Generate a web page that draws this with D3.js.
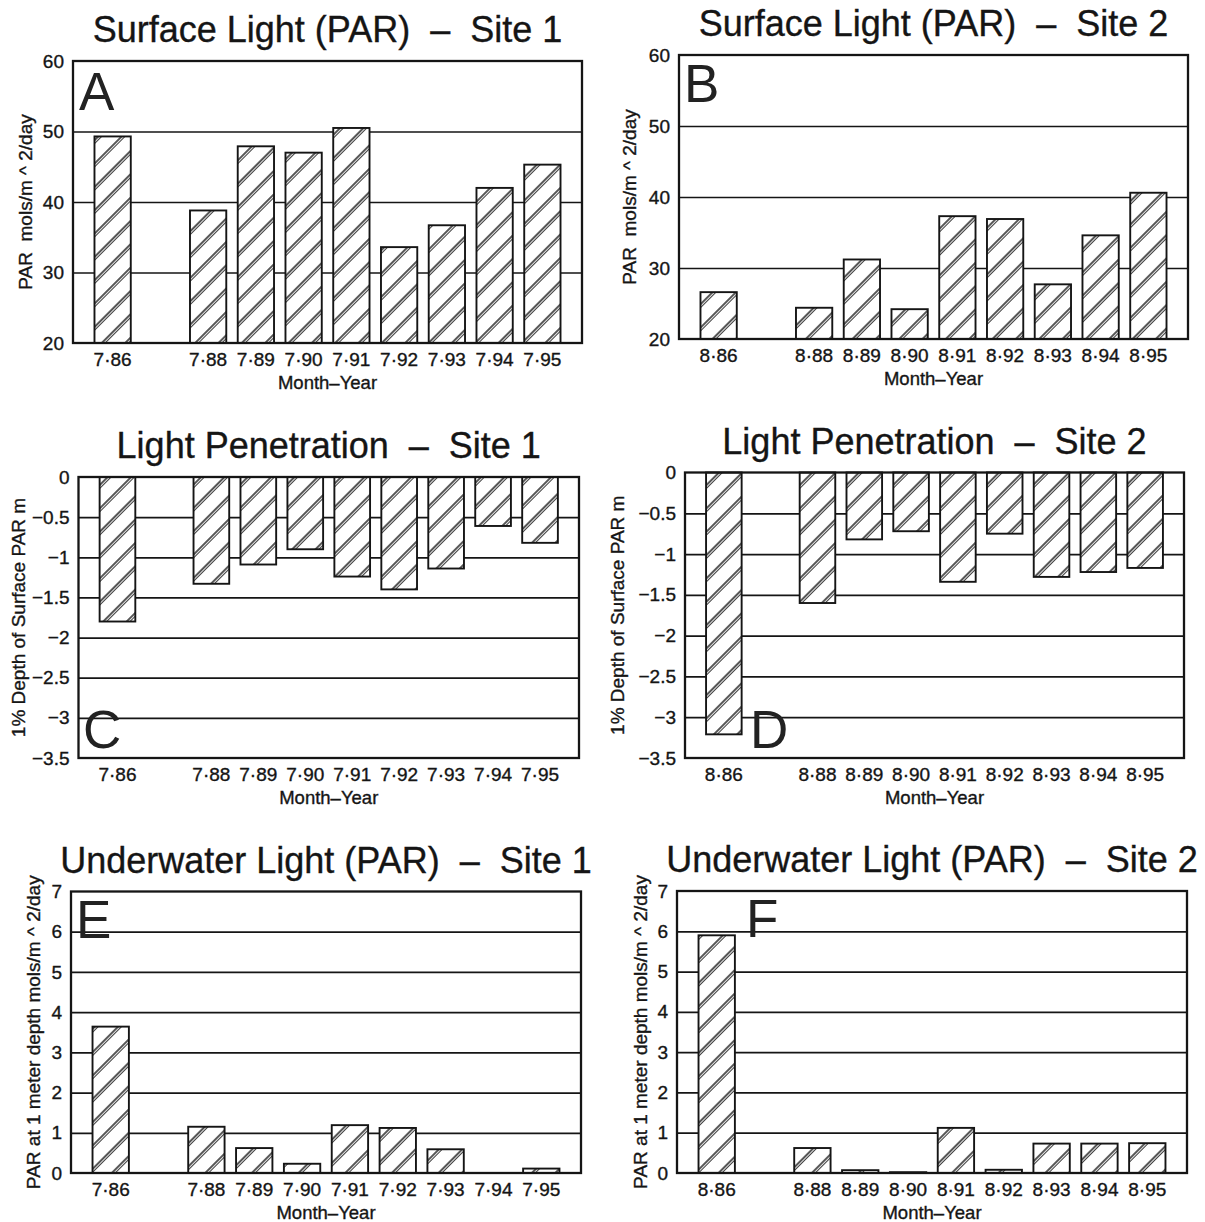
<!DOCTYPE html>
<html>
<head>
<meta charset="utf-8">
<script src="https://cdn.jsdelivr.net/npm/d3@7"></script>
<style>
  html, body { margin: 0; padding: 0; background: #fff; }
  svg { display: block; font-family: "Liberation Sans", Arial, Helvetica, sans-serif; }
</style>
</head>
<body>
<svg id="chart" width="1205" height="1222"></svg>
<script>
// Month-year sampling points (the x.87 slot was not sampled)
const site1Labels = ["7·86", "", "7·88", "7·89", "7·90", "7·91", "7·92", "7·93", "7·94", "7·95"];
const site2Labels = ["8·86", "", "8·88", "8·89", "8·90", "8·91", "8·92", "8·93", "8·94", "8·95"];

// Surface PAR, mols/m^2/day
const surfaceSite1 = [49.3, null, 38.8, 47.9, 47.0, 50.5, 33.6, 36.7, 42.0, 45.3];
const surfaceSite2 = [26.6, null, 24.4, 31.2, 24.2, 37.3, 36.9, 27.7, 34.6, 40.6];

// Depth (m) at which 1% of surface PAR remains
const penetrationSite1 = [-1.80, null, -1.33, -1.09, -0.90, -1.24, -1.40, -1.14, -0.61, -0.82];
const penetrationSite2 = [-3.21, null, -1.60, -0.82, -0.72, -1.34, -0.75, -1.28, -1.22, -1.17];

// PAR at 1 m depth, mols/m^2/day
const underwaterSite1 = [3.64, null, 1.15, 0.62, 0.23, 1.19, 1.12, 0.59, null, 0.11];
const underwaterSite2 = [5.90, null, 0.62, 0.07, 0.02, 1.12, 0.08, 0.73, 0.73, 0.74];

// Y tick values
const surfaceTicks = [20, 30, 40, 50, 60];
const penetrationTicks = [0, -0.5, -1, -1.5, -2, -2.5, -3, -3.5];
const underwaterTicks = [0, 1, 2, 3, 4, 5, 6, 7];

const xAxisTitle = "Month–Year";

const panels = [
  { letter: "A", title: "Surface Light (PAR)  –  Site 1", yTitle: "PAR  mols/m ^ 2/day",
    labels: site1Labels, values: surfaceSite1, ticks: surfaceTicks,
    box: { x0: 73, x1: 582, y0: 61, y1: 343 }, letterPos: [79, 110], yTitleX: 32 },
  { letter: "B", title: "Surface Light (PAR)  –  Site 2", yTitle: "PAR  mols/m ^ 2/day",
    labels: site2Labels, values: surfaceSite2, ticks: surfaceTicks,
    box: { x0: 679, x1: 1188, y0: 55, y1: 339 }, letterPos: [684, 102], yTitleX: 636 },
  { letter: "C", title: "Light Penetration  –  Site 1", yTitle: "1% Depth of Surface PAR m",
    labels: site1Labels, values: penetrationSite1, ticks: penetrationTicks,
    box: { x0: 78.5, x1: 579, y0: 477, y1: 758 }, letterPos: [83, 748], yTitleX: 25 },
  { letter: "D", title: "Light Penetration  –  Site 2", yTitle: "1% Depth of Surface PAR m",
    labels: site2Labels, values: penetrationSite2, ticks: penetrationTicks,
    box: { x0: 685, x1: 1184, y0: 472.5, y1: 758 }, letterPos: [750, 748], yTitleX: 624 },
  { letter: "E", title: "Underwater Light (PAR)  –  Site 1", yTitle: "PAR at 1 meter depth mols/m ^ 2/day",
    labels: site1Labels, values: underwaterSite1, ticks: underwaterTicks,
    box: { x0: 71, x1: 581, y0: 891.5, y1: 1173 }, letterPos: [76, 938], yTitleX: 40 },
  { letter: "F", title: "Underwater Light (PAR)  –  Site 2", yTitle: "PAR at 1 meter depth mols/m ^ 2/day",
    labels: site2Labels, values: underwaterSite2, ticks: underwaterTicks,
    box: { x0: 677, x1: 1187, y0: 891, y1: 1173 }, letterPos: [746, 937], yTitleX: 647 }
];

const ink = "#151515";
const svg = d3.select("#chart");

// Double-line diagonal hatch used for every bar
const defs = svg.append("defs");
const hatch = defs.append("pattern")
  .attr("id", "hatch")
  .attr("patternUnits", "userSpaceOnUse")
  .attr("width", 16.5).attr("height", 16.5)
  .attr("patternTransform", "rotate(45)");
hatch.append("rect").attr("width", 16.5).attr("height", 16.5).attr("fill", "#fff");
[[1.0, 1.4], [3.3, 0.9]].forEach(([xo, w]) => {
  hatch.append("line")
    .attr("x1", xo).attr("x2", xo).attr("y1", 0).attr("y2", 16.5)
    .attr("stroke", ink).attr("stroke-width", w);
});

const fmtTick = v => (v < 0 ? "−" + Math.abs(v) : String(v));

// Slightly heavier text, like printed type
const inkText = sel => sel
  .attr("fill", ink)
  .attr("stroke", ink)
  .attr("stroke-width", 0.35);

panels.forEach(p => {
  const { x0, x1, y0, y1 } = p.box;
  const g = svg.append("g");

  const x = d3.scaleBand()
    .domain(d3.range(p.labels.length))
    .range([x0, x1])
    .paddingInner(0.24)
    .paddingOuter(0.45);

  const dom = d3.extent(p.ticks);
  const y = d3.scaleLinear().domain(dom).range([y1, y0]);
  const base = dom[0] > 0 ? dom[0] : 0;

  // Title
  g.append("text")
    .attr("x", (x0 + x1) / 2).attr("y", y0 - 19)
    .attr("text-anchor", "middle")
    .attr("font-size", 36)
    .style("white-space", "pre")
    .text(p.title)
    .call(inkText);

  // Horizontal grid lines
  const inner = p.ticks.filter(t => t !== dom[0] && t !== dom[1]);
  const grid = g.append("g")
    .attr("transform", `translate(${x0},0)`)
    .call(d3.axisLeft(y).tickValues(inner).tickSize(-(x1 - x0)).tickFormat(""));
  grid.select(".domain").remove();
  grid.selectAll("line").attr("stroke", ink).attr("stroke-width", 1.7);

  // Bars
  const data = p.values.map((v, i) => ({ i, v })).filter(d => d.v !== null);
  g.append("g").selectAll("rect").data(data).join("rect")
    .attr("x", d => x(d.i)).attr("width", x.bandwidth())
    .attr("y", d => Math.min(y(d.v), y(base)))
    .attr("height", d => Math.abs(y(d.v) - y(base)))
    .attr("fill", "url(#hatch)")
    .attr("stroke", ink).attr("stroke-width", 1.9);

  // Plot frame
  g.append("rect")
    .attr("x", x0).attr("y", y0).attr("width", x1 - x0).attr("height", y1 - y0)
    .attr("fill", "none").attr("stroke", ink).attr("stroke-width", 2.3);

  // Panel letter
  g.append("text")
    .attr("x", p.letterPos[0]).attr("y", p.letterPos[1])
    .attr("font-size", 53).attr("fill", "#222")
    .text(p.letter);

  // Y axis labels
  const ya = g.append("g")
    .attr("transform", `translate(${x0},0)`)
    .call(d3.axisLeft(y).tickValues(p.ticks).tickSize(0).tickPadding(9).tickFormat(fmtTick));
  ya.attr("font-size", null).attr("font-family", null);
  ya.select(".domain").remove();
  ya.selectAll("text").attr("font-size", 19).call(inkText);

  // X axis labels
  const xa = g.append("g")
    .attr("transform", `translate(0,${y1})`)
    .call(d3.axisBottom(x).tickSize(0).tickPadding(10).tickFormat(i => p.labels[i]));
  xa.attr("font-size", null).attr("font-family", null);
  xa.select(".domain").remove();
  xa.selectAll("text").attr("font-size", 19).call(inkText);

  // Axis titles
  g.append("text")
    .attr("x", (x0 + x1) / 2).attr("y", y1 + 45.5)
    .attr("text-anchor", "middle").attr("font-size", 18.5)
    .text(xAxisTitle)
    .call(inkText);

  g.append("text")
    .attr("transform", `translate(${p.yTitleX},${(y0 + y1) / 2}) rotate(-90)`)
    .attr("text-anchor", "middle").attr("font-size", 19)
    .style("white-space", "pre")
    .text(p.yTitle)
    .call(inkText);
});
</script>
</body>
</html>
